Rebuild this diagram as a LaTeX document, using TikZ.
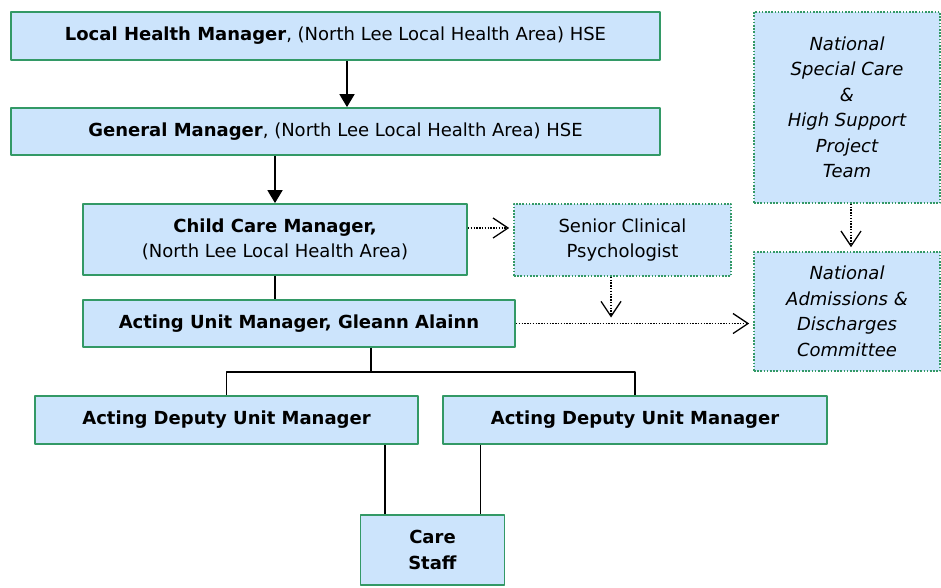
\documentclass[tikz,border=0pt]{standalone}
\usepackage{fontspec}
\setmainfont{DejaVu Sans}
\usetikzlibrary{arrows.meta}
\definecolor{boxfill}{RGB}{204,228,252}
\definecolor{boxline}{RGB}{51,153,102}
\newcommand{\boxsize}{\fontsize{18}{25.5}\selectfont}
\tikzset{
  unitbox/.style={draw=boxline, line width=1.8pt, fill=boxfill, align=center, inner sep=0pt, font=\boxsize},
  extbox/.style={draw=boxline, line width=1.6pt, dash pattern=on 1.6pt off 1.6pt, fill=boxfill, align=center, inner sep=0pt, font=\boxsize\itshape},
  report/.style={line width=1.8pt, -{Triangle[length=13pt,width=15pt]}},
  link/.style={line width=1.5pt},
  advise/.style={line width=1.4pt, dash pattern=on 1.4pt off 1.4pt, -{Straight Barb[length=15pt,width=20pt,line width=1.3pt]}, shorten >=4pt},
}
\begin{document}
\begin{tikzpicture}[x=1pt, y=-1pt, line join=round]
\useasboundingbox (0,0) rectangle (941,587);
% management line
\node[unitbox, minimum width=649pt, minimum height=48pt] (lhm) at (335.5,36)
  {\textbf{Local Health Manager}, (North Lee Local Health Area) HSE};
\node[unitbox, minimum width=649pt, minimum height=47pt] (gm) at (335.5,131.5)
  {\textbf{General Manager}, (North Lee Local Health Area) HSE};
\node[unitbox, minimum width=384pt, minimum height=71pt] (ccm) at (275,239.5)
  {\textbf{Child Care Manager,}\\(North Lee Local Health Area)};
\node[unitbox, minimum width=432pt, minimum height=47pt] (aum) at (299,323.5)
  {\textbf{Acting Unit Manager, Gleann Alainn}};
\node[unitbox, minimum width=383pt, minimum height=48pt] (dum1) at (226.5,420)
  {\textbf{Acting Deputy Unit Manager}};
\node[unitbox, minimum width=384pt, minimum height=48pt] (dum2) at (635,420)
  {\textbf{Acting Deputy Unit Manager}};
\node[unitbox, minimum width=144pt, minimum height=70pt] (care) at (432.5,550)
  {\textbf{Care}\\\textbf{Staff}};
% outside the unit
\node[extbox, font=\boxsize, minimum width=217pt, minimum height=72pt] (scp) at (622.5,240)
  {Senior Clinical\\Psychologist};
\node[extbox, minimum width=186pt, minimum height=191pt] (nsc) at (847,107.5)
  {National\\Special Care\\\&\\High Support\\Project\\Team};
\node[extbox, minimum width=186pt, minimum height=119pt] (nad) at (847,311.5)
  {National\\Admissions \&\\Discharges\\Committee};
\coordinate (bus) at (371,372);
% connectors
\draw[report] (lhm.south -| 347,0) -- (gm.north -| 347,0);
\draw[report] (gm.south -| ccm.north) -- (ccm.north);
\draw[link] (ccm.south) -- (ccm.south |- aum.north);
\draw[link] (aum.south -| bus) -- (bus);
\draw[link] (dum1.north) |- (bus) -| (dum2.north);
\draw[link] (dum1.south -| 385,0) -- (care.north -| 385,0);
\draw[link] (dum2.south -| 480.5,0) -- (care.north -| 480.5,0);
\draw[advise] ([yshift=11.5pt]ccm.east) -- ([yshift=11.5pt]ccm.east -| scp.west);
\draw[advise] (aum.east) -- (aum.east -| nad.west);
\draw[advise, shorten >=6pt] (scp.south -| 611,0) -- (aum.east -| 611,0);
\draw[advise] (nsc.south -| 851,0) -- (nad.north -| 851,0);
\end{tikzpicture}
\end{document}
